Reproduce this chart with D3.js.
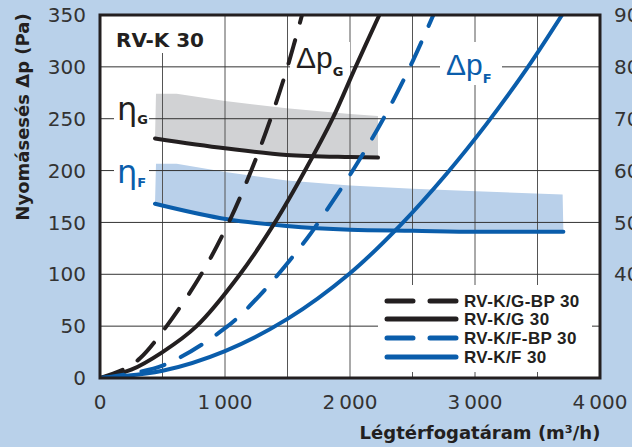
<!DOCTYPE html>
<html>
<head>
<meta charset="utf-8">
<script src="https://cdn.jsdelivr.net/npm/d3@7"></script>
<style>
body { margin: 0; background: #b9d1ea; }
svg { display: block; }
.tick-label { font-family: "DejaVu Sans", sans-serif; font-size: 20px; fill: #333; }
</style>
</head>
<body>
<svg id="chart"></svg>
<script>
var width = 632, height = 447;

// pressure drop, pairs of [m3/h, Pa]
var dpGBP = [[0,0],[200,9],[320,19],[533,50],[810,100],[1030,150],[1210,200],[1365,250],[1500,300],[1616,350]];
var dpG = [[0,0],[250,8],[500,25],[773,50],[1120,100],[1400,150],[1640,200],[1860,250],[2045,300],[2235,350]];
var dpFBP = [[0,0],[500,12],[1000,48],[1280,80],[1653,134],[1747,150],[2027,201],[2267,250],[2480,300],[2667,350]];
var dpF = [[0,0],[500,7],[1000,26],[1500,57],[2000,101],[2400,147],[2773,197],[3093,245],[3413,298],[3696,350]];

// efficiency, pairs of [m3/h, %]
var etaG = [[440,66.2],[1000,64.3],[1493,63.0],[2000,62.6],[2224,62.5]];
var etaGTop = [[448,74.8],[613,74.8],[1000,73.4],[1493,72.0],[2000,70.9],[2224,70.5]];
var etaF = [[440,53.6],[1018,50.6],[1493,49.3],[2000,48.6],[2507,48.4],[3013,48.2],[3707,48.2]];
var etaFTop = [[448,61.3],[613,61.3],[1016,59.7],[1493,58.1],[2000,57.1],[2504,56.5],[3013,56.0],[3701,55.4]];

var seriesNames = ['RV-K/G-BP 30', 'RV-K/G 30', 'RV-K/F-BP 30', 'RV-K/F 30'];
var seriesData = [dpGBP, dpG, dpFBP, dpF];
var seriesDashed = [true, false, true, false];
var seriesColors = ['#231f20', '#231f20', '#0a5dab', '#0a5dab'];

var xTicks = [0, 1000, 2000, 3000, 4000];
var xTickLabels = ['0', '1\u2009000', '2\u2009000', '3\u2009000', '4\u2009000'];
var yTicks = [0, 50, 100, 150, 200, 250, 300, 350];
var yRightTicks = [40, 50, 60, 70, 80, 90];

var svg = d3.select('svg#chart').attr('width', width).attr('height', height);

var x = d3.scaleLinear().domain([0, 4000]).range([100, 600]);
var y = d3.scaleLinear().domain([0, 350]).range([378, 15]);
var yR = d3.scaleLinear().domain([20, 90]).range([378, 15]);

svg.append('rect').attr('width', width).attr('height', height).style('fill', '#b9d1ea');
svg.append('rect')
  .attr('x', x(0)).attr('y', y(350))
  .attr('width', x(4000) - x(0)).attr('height', y(0) - y(350))
  .style('fill', '#fff');

svg.append('clipPath').attr('id', 'plot-clip')
  .append('rect')
  .attr('x', x(0)).attr('y', y(350))
  .attr('width', x(4000) - x(0)).attr('height', y(0) - y(350));

// efficiency bands
function band(top, line) {
  var pts = top.map(function(d) {return [x(d[0]), yR(d[1])];});
  line.slice().reverse().forEach(function(d) {pts.push([x(d[0]), yR(d[1])]);});
  return 'M' + pts.join('L') + 'Z';
}
svg.append('path').attr('d', band(etaGTop, etaG)).style('fill', '#d1d2d4');
svg.append('path').attr('d', band(etaFTop, etaF)).style('fill', '#b9d0ea');

// grid
var grid = svg.append('g');
grid.selectAll('.vgrid')
  .data(d3.range(500, 4000, 500))
  .enter().append('line')
  .attr('x1', function(d) {return x(d);}).attr('x2', function(d) {return x(d);})
  .attr('y1', y(0)).attr('y2', y(350))
  .style('stroke', '#555').style('stroke-width', 1);
grid.selectAll('.hgrid')
  .data(d3.range(50, 350, 50))
  .enter().append('line')
  .attr('x1', x(0)).attr('x2', x(4000))
  .attr('y1', function(d) {return y(d);}).attr('y2', function(d) {return y(d);})
  .style('stroke', '#333').style('stroke-width', 1);

// white boxes behind the labels
var boxes = [[101, 16, 118, 37], [290, 42, 60, 40], [440, 42, 62, 43], [114, 100, 35, 30], [114, 160, 35, 32], [378, 285, 214, 87]];
svg.selectAll('.box')
  .data(boxes)
  .enter().append('rect')
  .attr('x', function(d) {return d[0];}).attr('y', function(d) {return d[1];})
  .attr('width', function(d) {return d[2];}).attr('height', function(d) {return d[3];})
  .style('fill', '#fff');

var etaLine = d3.line()
  .x(function(d) {return x(d[0]);})
  .y(function(d) {return yR(d[1]);})
  .curve(d3.curveMonotoneX);

var plot = svg.append('g').attr('clip-path', 'url(#plot-clip)');

plot.append('path').attr('d', etaLine(etaG))
  .style('fill', 'none').style('stroke', '#231f20').style('stroke-width', 4).style('stroke-linecap', 'round');
plot.append('path').attr('d', etaLine(etaF))
  .style('fill', 'none').style('stroke', '#0a5dab').style('stroke-width', 4).style('stroke-linecap', 'round');

var dpLine = d3.line()
  .x(function(d) {return x(d[0]);})
  .y(function(d) {return y(d[1]);})
  .curve(d3.curveCatmullRom.alpha(0.5));

plot.selectAll('.dp')
  .data(seriesData)
  .enter().append('path')
  .attr('d', dpLine)
  .style('fill', 'none')
  .style('stroke', function(d, i) {return seriesColors[i];})
  .style('stroke-width', 4)
  .style('stroke-linecap', 'round')
  .style('stroke-dasharray', function(d, i) {return seriesDashed[i] ? '24,18' : null;});

// legend
var legend = svg.append('g');
var rowY = [301, 319, 338, 357];
legend.selectAll('.legend-line')
  .data(seriesNames)
  .enter().append('line')
  .attr('x1', 387).attr('x2', 456)
  .attr('y1', function(d, i) {return rowY[i];}).attr('y2', function(d, i) {return rowY[i];})
  .style('stroke', function(d, i) {return seriesColors[i];})
  .style('stroke-width', 5)
  .style('stroke-linecap', 'round')
  .style('stroke-dasharray', function(d, i) {return seriesDashed[i] ? '26,17' : null;});
legend.selectAll('.legend-label')
  .data(seriesNames)
  .enter().append('text')
  .attr('x', 464)
  .attr('y', function(d, i) {return rowY[i] + 6;})
  .style('font-family', '"Liberation Sans", sans-serif')
  .style('font-weight', 'bold')
  .style('font-size', '17px')
  .style('letter-spacing', '0.4px')
  .style('fill', '#231f20')
  .text(function(d) {return d;});

// frame
svg.append('rect')
  .attr('x', x(0)).attr('y', y(350))
  .attr('width', x(4000) - x(0)).attr('height', y(0) - y(350))
  .style('fill', 'none').style('stroke', '#231f20').style('stroke-width', 3);

// tick labels
svg.selectAll('.xlab')
  .data(xTicks)
  .enter().append('text')
  .classed('tick-label', true)
  .attr('x', function(d) {return x(d);})
  .attr('y', 409)
  .attr('text-anchor', 'middle')
  .text(function(d, i) {return xTickLabels[i];});
svg.selectAll('.ylab')
  .data(yTicks)
  .enter().append('text')
  .classed('tick-label', true)
  .attr('x', 86)
  .attr('y', function(d) {return y(d);})
  .attr('dy', '0.36em')
  .attr('text-anchor', 'end')
  .text(function(d) {return d;});
svg.selectAll('.yrlab')
  .data(yRightTicks)
  .enter().append('text')
  .classed('tick-label', true)
  .attr('x', 614)
  .attr('y', function(d) {return yR(d);})
  .attr('dy', '0.36em')
  .text(function(d) {return d;});

// axis titles
svg.append('text')
  .attr('transform', 'translate(29,117) rotate(-90)')
  .attr('text-anchor', 'middle')
  .style('font-family', '"DejaVu Sans", sans-serif')
  .style('font-weight', 'bold')
  .style('font-size', '18px')
  .style('fill', '#231f20')
  .text('Nyomásesés Δp (Pa)');
svg.append('text')
  .attr('x', 480).attr('y', 439)
  .attr('text-anchor', 'middle')
  .style('font-family', '"DejaVu Sans", sans-serif')
  .style('font-weight', 'bold')
  .style('font-size', '18px')
  .style('fill', '#231f20')
  .text('Légtérfogatáram (m³/h)');

svg.append('text')
  .attr('x', 116).attr('y', 47)
  .style('font-family', '"DejaVu Sans", sans-serif')
  .style('font-weight', 'bold')
  .style('font-size', '20px')
  .style('fill', '#231f20')
  .text('RV-K 30');

// curve labels: symbol, subscript, x, baseline, colour, font, size
var curveLabels = [
  ['Δp', 'G', 296, 68, '#231f20', 'Liberation Sans', 30],
  ['Δp', 'F', 446, 75, '#0a5dab', 'Liberation Sans', 30],
  ['η', 'G', 117, 120, '#231f20', 'DejaVu Sans', 32],
  ['η', 'F', 117, 183, '#0a5dab', 'DejaVu Sans', 32]
];
curveLabels.forEach(function(c) {
  var t = svg.append('text')
    .attr('x', c[2]).attr('y', c[3])
    .style('font-family', '"' + c[5] + '", sans-serif')
    .style('font-size', c[6] + 'px')
    .style('fill', c[4]);
  t.append('tspan').text(c[0]);
  t.append('tspan')
    .attr('dy', c[0] == 'η' ? 4 : 8)
    .style('font-family', '"DejaVu Sans", sans-serif')
    .style('font-weight', 'bold')
    .style('font-size', '13px')
    .text(c[1]);
});
</script>
</body>
</html>
